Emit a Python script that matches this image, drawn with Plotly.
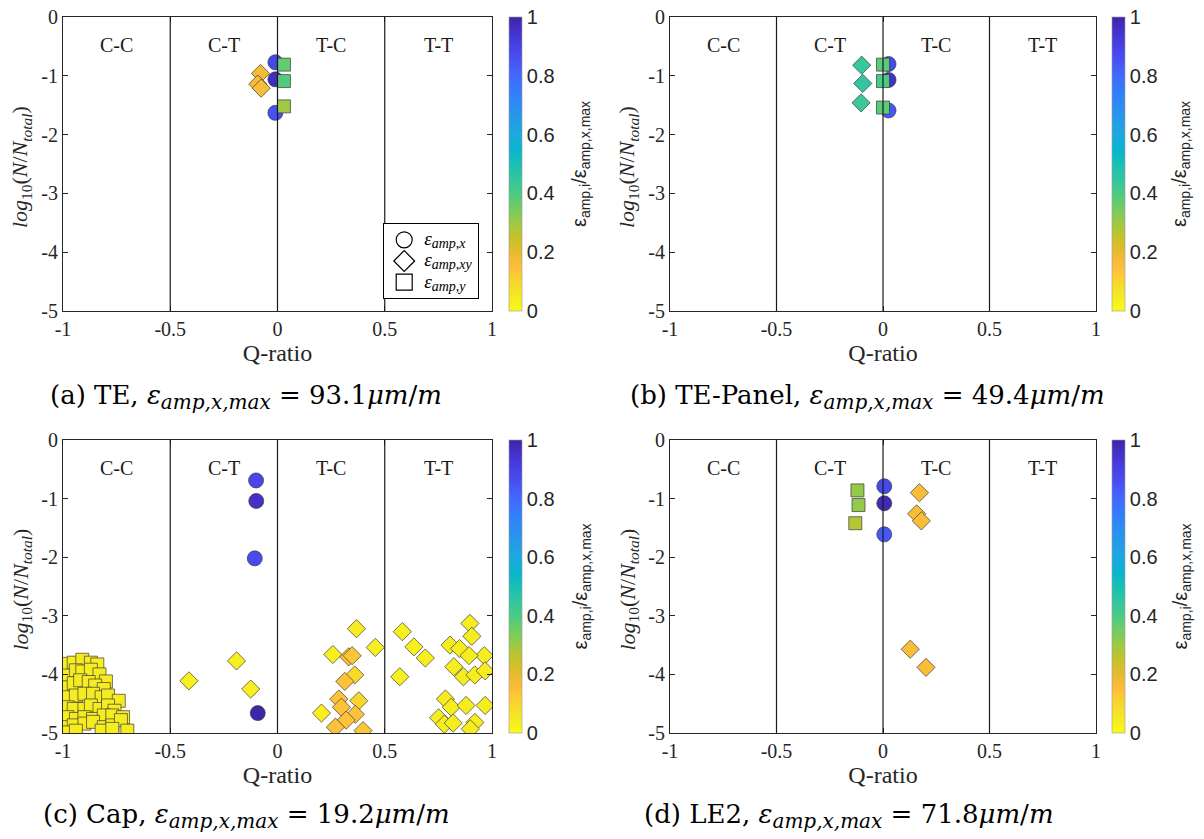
import plotly.graph_objects as go

# ---------------- data ----------------
region_labels = ["C-C", "C-T", "T-C", "T-T"]
region_centers = [-0.75, -0.25, 0.25, 0.75]
region_bounds = [-0.5, 0.0, 0.5]
x_ticks = [-1, -0.5, 0, 0.5, 1]
x_ticktext = ["-1", "-0.5", "0", "0.5", "1"]
y_ticks = [0, -1, -2, -3, -4, -5]
y_ticktext = ["0", "-1", "-2", "-3", "-4", "-5"]
cb_ticks = [0, 0.2, 0.4, 0.6, 0.8, 1]
cb_ticktext = ["0", "0.2", "0.4", "0.6", "0.8", "1"]

SUB = '<span style="font-size:20px">'
captions = [
    "(a) TE, <i>ε</i><sub>" + SUB + "<i>amp,x,max</i></span></sub> = 93.1<i>μm</i>/<i>m</i>",
    "(b) TE-Panel, <i>ε</i><sub>" + SUB + "<i>amp,x,max</i></span></sub> = 49.4<i>μm</i>/<i>m</i>",
    "(c) Cap, <i>ε</i><sub>" + SUB + "<i>amp,x,max</i></span></sub> = 19.2<i>μm</i>/<i>m</i>",
    "(d) LE2, <i>ε</i><sub>" + SUB + "<i>amp,x,max</i></span></sub> = 71.8<i>μm</i>/<i>m</i>",
]
LEPS = '<span style="font-size:19px"><i>ε</i></span>'
LSUB = '<span style="font-size:14px">'
legend_names = [LEPS + "<sub>" + LSUB + "<i>amp,x</i></span></sub>",
                LEPS + "<sub>" + LSUB + "<i>amp,xy</i></span></sub>",
                LEPS + "<sub>" + LSUB + "<i>amp,y</i></span></sub>"]
y_title = "<i>log</i><sub>10</sub>(<i>N</i>/<i>N</i><sub><i>total</i></sub>)"
cb_title = "ε<sub>amp,i</sub>/ε<sub>amp,x,max</sub>"

# Panel (a) TE
a_circ_q = [-0.01, -0.01, -0.01]
a_circ_n = [-0.77, -1.06, -1.63]
a_circ_c = [0.88, 0.97, 0.85]
a_diam_q = [-0.079, -0.092, -0.076]
a_diam_n = [-0.96, -1.14, -1.21]
a_diam_c = [0.17, 0.17, 0.16]
a_sq_q = [0.03, 0.03, 0.03]
a_sq_n = [-0.81, -1.09, -1.52]
a_sq_c = [0.37, 0.39, 0.30]

# Panel (b) TE-Panel
b_circ_q = [0.026, 0.026, 0.026]
b_circ_n = [-0.80, -1.07, -1.59]
b_circ_c = [0.88, 0.96, 0.84]
b_diam_q = [-0.10, -0.095, -0.103]
b_diam_n = [-0.82, -1.13, -1.46]
b_diam_c = [0.44, 0.45, 0.43]
b_sq_q = [0.0, 0.0, 0.0]
b_sq_n = [-0.81, -1.09, -1.54]
b_sq_c = [0.38, 0.40, 0.38]

# Panel (c) Cap
c_circ_q = [-0.10, -0.099, -0.106, -0.092]
c_circ_n = [-0.69, -1.04, -2.02, -4.66]
c_circ_c = [0.88, 0.96, 0.87, 1.0]
c_diam_q = [-0.413, -0.191, -0.125,
            0.368, 0.456, 0.258, 0.332, 0.348, 0.360, 0.314, 0.205, 0.286, 0.298,
            0.379, 0.363, 0.320, 0.270, 0.399,
            0.582, 0.636, 0.689, 0.570, 0.897, 0.906, 0.804, 0.849, 0.964, 0.893,
            0.822, 0.867, 0.920, 0.968, 0.783, 0.810, 0.879, 0.968, 0.751, 0.778,
            0.819, 0.920, 0.899]
c_diam_n = [-4.11, -3.77, -4.25,
            -3.22, -3.54, -3.66, -3.70, -3.68, -4.01, -4.12, -4.66, -4.42, -4.56,
            -4.45, -4.68, -4.78, -4.90, -4.96,
            -3.27, -3.53, -3.72, -4.04, -3.13, -3.35, -3.50, -3.56, -3.68, -3.68,
            -3.87, -4.04, -4.01, -3.94, -4.42, -4.56, -4.53, -4.53, -4.74, -4.85,
            -4.83, -4.82, -4.93]
c_diam_c = [0.03, 0.03, 0.03,
            0.04, 0.03, 0.03, 0.14, 0.13, 0.09, 0.14, 0.03, 0.14, 0.14,
            0.10, 0.14, 0.14, 0.14, 0.13,
            0.03, 0.03, 0.03, 0.03, 0.04, 0.04, 0.04, 0.04, 0.04, 0.04,
            0.04, 0.04, 0.04, 0.04, 0.04, 0.04, 0.04, 0.04, 0.04, 0.04,
            0.04, 0.04, 0.04]
c_sq_q = [-0.98, -0.95, -0.91, -0.87, -0.84,
          -0.98, -0.94, -0.91, -0.87, -0.83, -0.80,
          -0.98, -0.95, -0.92, -0.88, -0.85, -0.81,
          -0.98, -0.94, -0.90, -0.86, -0.82, -0.79, -0.74,
          -0.98, -0.95, -0.90, -0.87, -0.83, -0.79, -0.76,
          -0.98, -0.94, -0.90, -0.86, -0.81, -0.77, -0.72,
          -0.98, -0.95, -0.90, -0.86, -0.81, -0.77, -0.73,
          -0.98, -0.94, -0.82, -0.77, -0.70]
c_sq_n = [-3.82, -3.80, -3.75, -3.80, -3.83,
          -4.02, -3.93, -3.95, -3.92, -4.00, -4.12,
          -4.22, -4.15, -4.10, -4.13, -4.19, -4.25,
          -4.39, -4.36, -4.33, -4.33, -4.39, -4.36, -4.45,
          -4.56, -4.59, -4.59, -4.53, -4.59, -4.53, -4.62,
          -4.73, -4.76, -4.73, -4.76, -4.70, -4.70, -4.73,
          -4.90, -4.87, -4.84, -4.81, -4.90, -4.87, -4.78,
          -4.99, -4.96, -4.96, -4.93, -4.96]
c_sq_c = [0.03, 0.04, 0.05, 0.04, 0.03,
          0.03, 0.05, 0.04, 0.04, 0.04, 0.04,
          0.03, 0.04, 0.05, 0.04, 0.04, 0.04,
          0.03, 0.04, 0.04, 0.05, 0.04, 0.04, 0.04,
          0.03, 0.04, 0.04, 0.04, 0.04, 0.04, 0.04,
          0.03, 0.04, 0.05, 0.04, 0.04, 0.04, 0.04,
          0.03, 0.04, 0.04, 0.04, 0.04, 0.04, 0.04,
          0.03, 0.04, 0.04, 0.04, 0.04]

# Panel (d) LE2
d_circ_q = [0.006, 0.006, 0.006]
d_circ_n = [-0.79, -1.08, -1.61]
d_circ_c = [0.88, 0.98, 0.84]
d_diam_q = [0.171, 0.158, 0.180, 0.128, 0.202]
d_diam_n = [-0.90, -1.26, -1.38, -3.57, -3.88]
d_diam_c = [0.16, 0.16, 0.16, 0.16, 0.16]
d_sq_q = [-0.12, -0.115, -0.13]
d_sq_n = [-0.86, -1.11, -1.42]
d_sq_c = [0.31, 0.31, 0.27]

panels = [
    (a_circ_q, a_circ_n, a_circ_c, a_diam_q, a_diam_n, a_diam_c, a_sq_q, a_sq_n, a_sq_c),
    (b_circ_q, b_circ_n, b_circ_c, b_diam_q, b_diam_n, b_diam_c, b_sq_q, b_sq_n, b_sq_c),
    (c_circ_q, c_circ_n, c_circ_c, c_diam_q, c_diam_n, c_diam_c, c_sq_q, c_sq_n, c_sq_c),
    (d_circ_q, d_circ_n, d_circ_c, d_diam_q, d_diam_n, d_diam_c, d_sq_q, d_sq_n, d_sq_c),
]

# ---------------- style ----------------
W, H = 1204, 839
# reversed parula (0 -> yellow, 1 -> dark blue)
parula = ["#3E26A8", "#4432CB", "#4741E5", "#4852F4", "#4269FE", "#327CFC", "#2D8CF3",
          "#259BE7", "#1CA9DF", "#08B4D0", "#19BFB6", "#31C69F", "#4ACB84", "#72CC64",
          "#9DC943", "#C5C22A", "#E6BB2D", "#FEBD3C", "#F9D62D", "#F5E924", "#F9FB15"]
rev = parula[::-1]
cscale = [[i / (len(rev) - 1), c] for i, c in enumerate(rev)]

SERIF = "Liberation Serif"
CAPF = "DejaVu Serif"
SANS = "Liberation Sans"
INK = "#262626"

# pixel boxes in screen pixels: (left, right, top, bottom, colorbar left)
boxes = [(63, 492, 17, 311, 509), (670, 1096, 17, 311, 1112),
         (63, 492, 440, 733, 509), (670, 1096, 440, 733, 1112)]
cap_pos = [(246, 397), (868, 397), (246, 816), (849, 816)]
ytitle_x = [21, 628, 21, 628]
cbtitle_x = [581, 1181, 581, 1181]


def px(xp):
    return xp / W


def py(yp):
    return 1 - yp / H


fig = go.Figure()
layout = dict(width=W, height=H, margin=dict(l=0, r=0, t=0, b=0, autoexpand=False),
              paper_bgcolor="white", plot_bgcolor="white", showlegend=True)
annotations = []
shapes = []

for i, (box, data) in enumerate(zip(boxes, panels)):
    l, r, t, b, cbx = box
    sfx = "" if i == 0 else str(i + 1)
    xa, ya = "x" + sfx, "y" + sfx
    ca = "coloraxis" + sfx
    cq, cn, cc, dq, dn, dc, sq, sn, sc = data
    for q, n, c, sym, size in [(cq, cn, cc, "circle", 15), (dq, dn, dc, "diamond", 14),
                               (sq, sn, sc, "square", 13)]:
        fig.add_trace(go.Scatter(
            x=q, y=n, mode="markers", xaxis=xa, yaxis=ya, showlegend=False,
            marker=dict(symbol=sym, size=size, color=c, coloraxis=ca,
                        line=dict(color="#3a3a3a", width=0.7))))
    layout["xaxis" + sfx] = dict(
        domain=[px(l), px(r)], anchor=ya, range=[-1, 1], tickvals=x_ticks, ticktext=x_ticktext,
        ticks="inside", ticklen=5, tickcolor=INK, mirror="ticks", showline=True,
        linecolor=INK, linewidth=1, showgrid=False, zeroline=False, automargin=False,
        ticklabeloverflow="allow",
        tickfont=dict(family=SERIF, size=20, color=INK),
        title=dict(text="Q-ratio", font=dict(family=SERIF, size=24, color=INK), standoff=3))
    layout["yaxis" + sfx] = dict(
        domain=[py(b), py(t)], anchor=xa, range=[-5, 0], tickvals=y_ticks, ticktext=y_ticktext,
        ticks="inside", ticklen=5, tickcolor=INK, mirror="ticks", showline=True,
        linecolor=INK, linewidth=1, showgrid=False, zeroline=False, automargin=False,
        ticklabeloverflow="allow",
        tickfont=dict(family=SERIF, size=20, color=INK))
    annotations.append(dict(text=y_title, xref="paper", yref="paper", x=px(ytitle_x[i]),
                            y=py((t + b) / 2 + 3), textangle=-90, showarrow=False,
                            xanchor="center", yanchor="middle",
                            font=dict(family=SERIF, size=22, color=INK)))
    layout[ca] = dict(
        cmin=0, cmax=1, colorscale=cscale,
        colorbar=dict(x=px(cbx), xanchor="left", xpad=0, ypad=0, thickness=13,
                      len=b - t, lenmode="pixels", y=py((t + b) / 2), yanchor="middle",
                      tickvals=cb_ticks, ticktext=cb_ticktext, ticks="",
                      ticklabeloverflow="allow",
                      tickfont=dict(family=SANS, size=20, color=INK),
                      outlinewidth=0.6, outlinecolor="#999999"))
    annotations.append(dict(text=cb_title, xref="paper", yref="paper", x=px(cbtitle_x[i]),
                            y=py((t + b) / 2), textangle=-90, showarrow=False,
                            xanchor="center", yanchor="middle",
                            font=dict(family=SANS, size=20, color=INK)))
    for xb in region_bounds:
        shapes.append(dict(type="line", xref=xa, yref=ya, x0=xb, x1=xb, y0=-5, y1=0,
                           line=dict(color="#1a1a1a", width=1.2), layer="above"))
    for lab, xc in zip(region_labels, region_centers):
        annotations.append(dict(text=lab, xref=xa, yref=ya, x=xc, y=-0.47, showarrow=False,
                                font=dict(family=SERIF, size=20, color="#1a1a1a")))
    cx, cy = cap_pos[i]
    annotations.append(dict(text=captions[i], xref="paper", yref="paper", x=px(cx), y=py(cy),
                            xanchor="center", yanchor="middle", showarrow=False,
                            font=dict(family=CAPF, size=26, color="black")))

# legend traces (panel a)
for name, sym in zip(legend_names, ["circle", "diamond", "square"]):
    fig.add_trace(go.Scatter(x=[None], y=[None], mode="markers", name=name, xaxis="x", yaxis="y",
                             marker=dict(symbol=sym, size=16, color="white",
                                         line=dict(color="black", width=1.2))))

layout["legend"] = dict(x=px(479), y=py(299), xanchor="right", yanchor="bottom",
                        bgcolor="white", bordercolor="black", borderwidth=1.2,
                        font=dict(family=SERIF, size=14, color="black"),
                        tracegroupgap=0, itemwidth=30)
layout["annotations"] = annotations
layout["shapes"] = shapes
fig.update_layout(**layout)
fig.write_html("out.html", config={"displayModeBar": False},
               post_script="document.body.style.margin='0';")
